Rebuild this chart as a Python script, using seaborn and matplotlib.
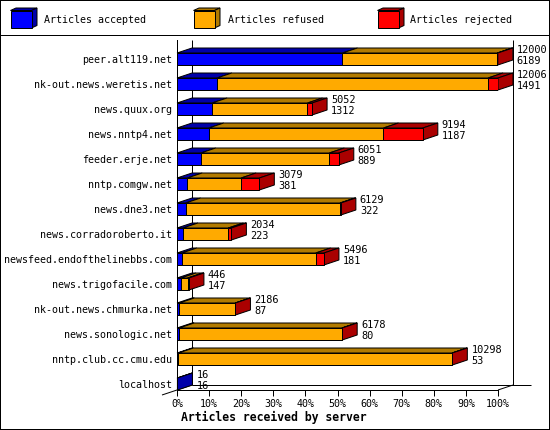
import matplotlib
matplotlib.use("Agg")
import matplotlib.pyplot as plt
import numpy as np
import pandas as pd
import seaborn as sns
from matplotlib.patches import Polygon

servers = ["peer.alt119.net", "nk-out.news.weretis.net", "news.quux.org", "news.nntp4.net",
           "feeder.erje.net", "nntp.comgw.net", "news.dne3.net", "news.corradoroberto.it",
           "newsfeed.endofthelinebbs.com", "news.trigofacile.com", "nk-out.news.chmurka.net",
           "news.sonologic.net", "nntp.club.cc.cmu.edu", "localhost"]
total = [12000, 12006, 5052, 9194, 6051, 3079, 6129, 2034, 5496, 446, 2186, 6178, 10298, 16]
accepted = [6189, 1491, 1312, 1187, 889, 381, 322, 223, 181, 147, 87, 80, 53, 16]
refused = [5790, 10141, 3568, 6535, 4807, 2016, 5774, 1696, 5006, 250, 2090, 6086, 10235, 0]
pct_ticks = [0, 10, 20, 30, 40, 50, 60, 70, 80, 90, 100]
legend_labels = ["Articles accepted", "Articles refused", "Articles rejected"]

BLUE, ORANGE, RED = "#0000FF", "#FFAA00", "#FF0000"
DBLUE, DORANGE, DRED = "#0000AA", "#B27B00", "#AA0000"

sns.set_style("white")
plt.rcParams["font.family"] = ["DejaVu Sans Mono"]
plt.rcParams["text.color"] = "black"
plt.rcParams["axes.labelcolor"] = "black"
plt.rcParams["xtick.color"] = "black"
plt.rcParams["ytick.color"] = "black"

W, H = 550, 430
X0, X1, Ytop, Ybot = 177, 498, 40, 390
fig = plt.figure(figsize=(W / 100, H / 100), dpi=100, facecolor="white")
ax = fig.add_axes([X0 / W, 1 - Ybot / H, (X1 - X0) / W, (Ybot - Ytop) / H])

acc = np.array(accepted, float)
ref = np.array(refused, float)
tot = np.array(total, float)
xmax = max(total)
df = pd.DataFrame({"server": servers, "total": tot, "acc_ref": acc + ref, "acc": acc})

BW = 0.48
LW = 0.72
DX = 15 / (X1 - X0) * xmax   # depth in data units (15 px)
DY = 5 / 25                  # depth in rows (5 px)

# Front faces, painted back to front as cumulative bars
edge = dict(edgecolor="black", linewidth=LW, width=BW, orient="y", zorder=3, ax=ax, dodge=False)
sns.barplot(data=df, y="server", x="total", color=RED, saturation=1, **edge)
sns.barplot(data=df, y="server", x="acc_ref", color=ORANGE, saturation=1, **edge)
sns.barplot(data=df, y="server", x="acc", color=BLUE, saturation=1, **edge)

ax.set_xlim(0, xmax)
ax.set_ylim(13.24, -0.76)

# Walls behind the bars
wall = dict(color="black", lw=LW, clip_on=False, zorder=1, solid_capstyle="butt")
yback = 13.24 - DY
ax.plot([DX, DX], [-0.76, yback], **wall)
ax.plot([xmax + DX, xmax + DX], [-0.76, yback], **wall)
ax.plot([DX, xmax + DX + 18 / (X1 - X0) * xmax], [yback, yback], **wall)
ax.plot([-DX, DX], [13.24 + DY, yback], **wall)
ax.plot([xmax, xmax + DX], [13.24, yback], **wall)


def face(pts, color, z):
    ax.add_patch(Polygon(pts, closed=True, facecolor=color, edgecolor="black",
                         linewidth=LW, zorder=z, clip_on=False, joinstyle="miter"))


# Depth faces
for i in range(len(servers)):
    t, b = i - BW / 2, i + BW / 2
    a_end, r_end, end = acc[i], acc[i] + ref[i], tot[i]
    segs = [(0, a_end, DBLUE), (a_end, r_end, DORANGE), (r_end, end, DRED)]
    for s, e, c in segs:
        if e > s:
            face([(s, t), (e, t), (e + DX, t - DY), (s + DX, t - DY)], c, 2)
    side = DBLUE if end <= a_end else (DRED if end > r_end else DORANGE)
    face([(end, t), (end + DX, t - DY), (end + DX, b - DY), (end, b)], side, 2.5)
    ax.annotate(f"{total[i]}", (end + DX, i), xytext=(4, 9), textcoords="offset pixels",
                ha="left", va="center", fontsize=7.4, zorder=5, annotation_clip=False)
    ax.annotate(f"{accepted[i]}", (end + DX, i), xytext=(4, -2), textcoords="offset pixels",
                ha="left", va="center", fontsize=7.4, zorder=5, annotation_clip=False)

ax.set_xticks([p / 100 * xmax for p in pct_ticks])
ax.set_xticklabels([f"{p}%" for p in pct_ticks])
ax.tick_params(axis="x", length=4.3, width=LW, pad=2, labelsize=7.2, color="black", bottom=True)
ax.tick_params(axis="y", length=0, pad=3.5, labelsize=7.2)
ax.set_ylabel("")
ax.set_xlabel("Articles received by server", fontsize=8.3, fontweight="bold")
ax.xaxis.set_label_coords((274 - X0) / (X1 - X0), -(417 - Ybot) / (Ybot - Ytop))
ax.xaxis.label.set_va("center")
ax.patch.set_alpha(0)
for s in ("top", "right"):
    ax.spines[s].set_visible(False)
for s in ("left", "bottom"):
    ax.spines[s].set_visible(True)
    ax.spines[s].set_color("black")
    ax.spines[s].set_linewidth(LW)
    ax.spines[s].set_zorder(6)

# Frame, separator and legend drawn in pixel space
ov = fig.add_axes([0, 0, 1, 1], zorder=-1)
ov.set_xlim(0, W)
ov.set_ylim(H, 0)
ov.axis("off")
for xs, ys in (([0.5, 0.5], [0, H]), ([W - 0.5, W - 0.5], [0, H]),
               ([0, W], [0.5, 0.5]), ([0, W], [H - 0.5, H - 0.5]), ([0, W], [35.5, 35.5])):
    ov.plot(xs, ys, color="black", lw=LW, snap=False, clip_on=False, solid_capstyle="butt")
for x, c, d, lab, tx in zip([10.5, 193.5, 377.5], [BLUE, ORANGE, RED], [DBLUE, DORANGE, DRED],
                            legend_labels, [44, 227.5, 410.5]):
    w, h, dx, dy = 21, 17.5, 5.5, 2.5
    ov.add_patch(Polygon([(x, 10.5), (x + w, 10.5), (x + w + dx, 10.5 - dy), (x + dx, 10.5 - dy)],
                         facecolor=d, edgecolor="black", lw=LW))
    ov.add_patch(Polygon([(x + w, 10.5), (x + w + dx, 10.5 - dy), (x + w + dx, 28 - dy), (x + w, 28)],
                         facecolor=d, edgecolor="black", lw=LW))
    ov.add_patch(plt.Rectangle((x, 10.5), w, h, facecolor=c, edgecolor="black", lw=LW))
    ov.text(tx, 20, lab, ha="left", va="center", fontsize=7.2)

fig.savefig("out.png", dpi=100, facecolor="white")
